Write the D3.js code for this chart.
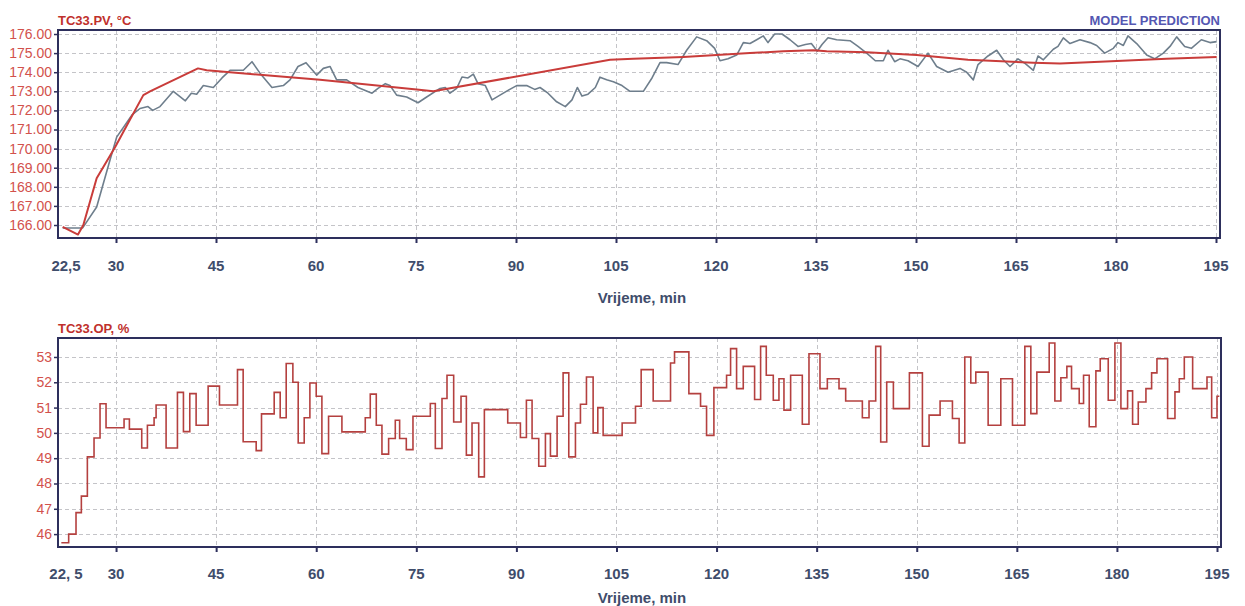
<!DOCTYPE html>
<html>
<head>
<meta charset="utf-8">
<script src="https://cdn.jsdelivr.net/npm/d3@7/dist/d3.min.js"></script>
<style>
  html, body { margin: 0; padding: 0; background: #ffffff; }
  svg { display: block; }
</style>
</head>
<body>
<svg id="chart" width="1245" height="606"></svg>
<script>
// Process temperature TC33.PV (measured), min
const pvTime = [22.0, 25.0, 27.1, 29.1, 30.1, 32.4, 33.6, 34.8, 35.5, 36.6, 38.6, 40.4, 41.3, 42.1, 43.1, 44.6,
  45.9, 47.1, 49.1, 50.4, 51.6, 53.4, 55.1, 56.1, 57.3, 58.5, 60.1, 61.1, 62.1, 63.1, 64.6, 66.3, 68.4, 69.3,
  70.4, 71.1, 72.1, 73.6, 75.3, 76.6, 78.6, 79.4, 80.1, 81.1, 81.9, 82.8, 83.6, 84.3, 85.4, 86.4, 87.6, 88.8,
  90.1, 91.6, 92.8, 93.6, 94.8, 96.1, 97.4, 98.4, 99.2, 99.9, 100.8, 101.9, 102.6, 103.6, 104.6, 105.9, 107.1,
  108.1, 109.1, 110.4, 111.6, 112.6, 114.3, 115.6, 117.1, 118.6, 119.8, 120.6, 121.8, 123.1, 124.1, 125.1,
  126.1, 127.1, 127.8, 128.8, 129.9, 131.1, 132.3, 133.4, 134.3, 135.2, 135.9, 136.8, 138.1, 140.1, 141.3,
  142.6, 143.9, 145.1, 145.8, 146.8, 147.6, 148.8, 150.3, 151.8, 153.1, 154.8, 156.6, 157.6, 158.6, 159.3,
  160.8, 162.1, 163.1, 164.1, 165.3, 166.4, 167.6, 168.3, 169.1, 170.6, 171.3, 172.1, 173.1, 174.6, 176.1,
  177.1, 178.3, 179.6, 180.3, 181.1, 181.8, 183.1, 184.6, 185.8, 187.1, 188.1, 189.1, 190.3, 191.3, 192.8,
  194.1, 195.1];
const pvValue = [165.84, 165.85, 166.94, 169.4, 170.6, 171.76, 172.1, 172.2, 172.0, 172.2, 173.0, 172.5, 172.9,
  172.85, 173.3, 173.2, 173.7, 174.1, 174.1, 174.55, 173.95, 173.2, 173.3, 173.6, 174.3, 174.5, 173.85, 174.2,
  174.3, 173.6, 173.6, 173.2, 172.9, 173.15, 173.4, 173.3, 172.8, 172.7, 172.4, 172.7, 173.15, 173.2, 172.9,
  173.15, 173.75, 173.7, 173.9, 173.4, 173.3, 172.55, 172.8, 173.05, 173.3, 173.3, 173.1, 173.2, 172.9, 172.45,
  172.2, 172.55, 173.2, 172.75, 172.85, 173.2, 173.74, 173.6, 173.5, 173.3, 173.0, 173.0, 173.0, 173.7, 174.5,
  174.5, 174.4, 175.15, 175.85, 175.65, 175.25, 174.6, 174.7, 174.9, 175.55, 175.5, 175.7, 175.9, 175.55, 176.0,
  176.0, 175.7, 175.35, 175.45, 175.5, 175.1, 175.45, 175.8, 175.7, 175.65, 175.35, 175.0, 174.6, 174.6, 175.15,
  174.55, 174.7, 174.6, 174.3, 175.0, 174.3, 174.0, 174.2, 174.0, 173.6, 174.4, 174.85, 175.15, 174.65, 174.3,
  174.7, 174.45, 174.1, 174.85, 174.65, 175.2, 175.35, 175.8, 175.5, 175.7, 175.55, 175.4, 175.0, 175.25,
  175.55, 175.4, 175.9, 175.5, 174.9, 174.7, 175.0, 175.35, 175.85, 175.35, 175.25, 175.7, 175.55, 175.6];

// Model prediction of TC33.PV
const modelTime = [22.0, 24.3, 25.1, 27.1, 29.9, 31.6, 34.1, 35.1, 42.3, 43.6, 60.6, 75.1, 77.6, 104.1, 107.6,
  115.1, 120.1, 125.1, 130.1, 134.6, 136.6, 142.6, 150.1, 157.8, 167.6, 171.6, 177.6, 187.6, 195.1];
const modelValue = [165.9, 165.5, 166.0, 168.45, 170.1, 171.2, 172.8, 173.0, 174.2, 174.1, 173.6, 173.1, 173.0,
  174.65, 174.7, 174.8, 174.9, 175.0, 175.1, 175.15, 175.1, 175.05, 174.9, 174.65, 174.5, 174.45, 174.55,
  174.7, 174.8];

// Controller output TC33.OP, step changes (time of change, new value)
const opTime = [21.8, 22.9, 24.0, 24.8, 25.7, 26.7, 27.6, 28.5, 31.2, 32.0, 33.85, 34.7, 35.7, 36.0, 37.5, 39.2,
  40.1, 41.05, 42.0, 43.8, 45.5, 48.2, 49.05, 51.0, 51.8, 53.7, 54.6, 55.5, 56.5, 57.3, 58.2, 59.05, 60.0,
  60.85, 61.85, 63.85, 67.35, 68.1, 69.0, 69.85, 70.85, 71.85, 72.5, 73.5, 74.5, 77.1, 77.85, 78.85, 79.6,
  80.6, 81.7, 82.5, 83.35, 84.35, 85.2, 88.7, 90.6, 91.5, 92.35, 93.35, 94.35, 95.1, 96.1, 97.0, 97.85, 98.85,
  99.6, 100.5, 101.5, 102.2, 103.0, 105.85, 107.85, 108.7, 110.5, 113.1, 113.7, 115.85, 117.6, 118.5, 119.6,
  121.5, 122.1, 123.0, 124.0, 125.7, 126.6, 127.45, 128.5, 129.35, 130.1, 131.1, 132.85, 133.85, 135.5, 136.6,
  138.35, 139.35, 141.85, 142.85, 143.85, 144.6, 145.5, 146.5, 148.9, 150.85, 151.85, 153.5, 155.35, 156.35,
  157.2, 158.1, 158.85, 160.7, 162.6, 164.35, 166.2, 167.1, 168.0, 169.85, 170.7, 171.6, 172.5, 173.2, 174.35,
  175.0, 175.85, 176.85, 177.5, 178.7, 179.7, 180.6, 181.6, 182.35, 183.2, 184.35, 185.2, 186.0, 187.6, 188.7,
  189.35, 190.1, 191.35, 193.5, 194.2, 195.0, 195.35];
const opValue = [45.66, 46.0, 46.85, 47.5, 49.05, 49.8, 51.15, 50.2, 50.55, 50.15, 49.4, 50.3, 50.6, 51.1, 49.4,
  51.6, 50.05, 51.55, 50.3, 51.85, 51.1, 52.5, 49.65, 49.3, 50.75, 51.6, 50.6, 52.74, 52.0, 49.6, 50.6, 51.97,
  51.45, 49.18, 50.66, 50.04, 50.6, 51.53, 50.3, 49.16, 49.78, 50.5, 49.78, 49.34, 50.66, 51.16, 49.38, 51.36,
  52.28, 50.43, 51.45, 49.12, 50.39, 48.26, 50.92, 50.39, 49.82, 51.29, 49.78, 48.68, 49.97, 49.08, 50.66,
  52.37, 49.05, 50.39, 51.13, 52.21, 50.0, 51.0, 49.9, 50.39, 51.05, 52.5, 51.26, 52.76, 53.2, 51.55, 51.05,
  49.9, 51.79, 52.28, 53.33, 51.75, 52.63, 51.32, 53.42, 52.28, 51.29, 52.14, 50.9, 52.28, 50.34, 53.13, 51.75,
  52.14, 51.75, 51.26, 50.6, 51.26, 53.42, 49.64, 52.01, 50.96, 52.37, 49.47, 50.7, 51.26, 50.57, 49.6, 53.0,
  51.97, 52.4, 50.3, 52.14, 50.3, 53.42, 50.76, 52.4, 53.55, 51.26, 52.18, 52.63, 51.75, 51.16, 52.28, 50.24,
  52.45, 52.93, 51.29, 53.55, 50.96, 51.66, 50.34, 51.22, 51.75, 52.37, 52.93, 50.57, 51.62, 52.14, 53.0,
  51.75, 52.21, 50.6, 51.45, 51.45];

// Axis ticks
const timeTicks = [30, 45, 60, 75, 90, 105, 120, 135, 150, 165, 180, 195];
const pvTicks = [166, 167, 168, 169, 170, 171, 172, 173, 174, 175, 176];
const opTicks = [46, 47, 48, 49, 50, 51, 52, 53];

const svg = d3.select("#chart");

const C = {
  frame: "#2d2f5c",
  grid: "#c4c4c8",
  tickText: "#3f4d6b",
  yText: "#d2514c",
  title: "#c0302c",
  pv: "#6e7e8c",
  model: "#c93c3a",
  op: "#b4403f",
  legend: "#5457b2"
};
const narrow = "'Liberation Sans Narrow', 'Arial Narrow', 'Liberation Sans', Arial, sans-serif";
const sans = "'Liberation Sans', Arial, sans-serif";

function panel(cfg) {
  const { left, right, top, bottom } = cfg;
  const x = d3.scaleLinear().domain([21.3, 195.6]).range([left, right]);
  const y = d3.scaleLinear().domain(cfg.yDomain).range([bottom, top]);
  const g = svg.append("g");

  // grid
  g.append("g").selectAll("line").data(cfg.yTicks).join("line")
    .attr("x1", left).attr("x2", right)
    .attr("y1", d => Math.round(y(d)) + 0.5).attr("y2", d => Math.round(y(d)) + 0.5)
    .attr("stroke", C.grid).attr("stroke-width", 1).attr("stroke-dasharray", "4,3");
  g.append("g").selectAll("line").data(timeTicks).join("line")
    .attr("x1", d => Math.round(x(d)) + 0.5).attr("x2", d => Math.round(x(d)) + 0.5)
    .attr("y1", top).attr("y2", bottom)
    .attr("stroke", C.grid).attr("stroke-width", 1).attr("stroke-dasharray", "4,3");

  // data
  cfg.draw(g, x, y);

  // frame
  g.append("rect").attr("x", left).attr("y", top)
    .attr("width", right - left).attr("height", bottom - top)
    .attr("fill", "none").attr("stroke", C.frame).attr("stroke-width", 2);

  // x axis
  const xAxis = d3.axisBottom(x).tickValues(timeTicks).tickSize(5).tickFormat("");
  const xa = g.append("g").attr("transform", `translate(0,${bottom})`).call(xAxis);
  xa.select(".domain").remove();
  xa.selectAll(".tick line").attr("stroke", C.frame).attr("stroke-width", 2);

  const labels = [{ v: 22.5, t: cfg.firstLabel }].concat(timeTicks.map(v => ({ v, t: String(v) })));
  g.append("g").selectAll("text").data(labels).join("text")
    .attr("x", d => x(d.v)).attr("y", bottom + cfg.labelOffset)
    .attr("text-anchor", "middle").attr("dominant-baseline", "central")
    .attr("font-family", narrow).attr("font-weight", "bold").attr("font-size", 15)
    .attr("fill", C.tickText).text(d => d.t);

  g.append("text").attr("x", 642).attr("y", bottom + cfg.nameOffset)
    .attr("text-anchor", "middle").attr("dominant-baseline", "central")
    .attr("font-family", narrow).attr("font-weight", "bold").attr("font-size", 15)
    .attr("fill", C.tickText).text("Vrijeme, min");

  // y axis
  const yAxis = d3.axisLeft(y).tickValues(cfg.yTicks).tickSize(4).tickPadding(2).tickFormat(cfg.yFormat);
  const ya = g.append("g").attr("transform", `translate(${left},0)`).call(yAxis);
  ya.select(".domain").remove();
  ya.selectAll(".tick line").attr("stroke", C.frame).attr("stroke-width", 1.5);
  ya.selectAll(".tick text").attr("fill", C.yText)
    .attr("font-family", sans).attr("font-size", 14);

  g.append("text").attr("x", left).attr("y", top - 10)
    .attr("dominant-baseline", "central")
    .attr("font-family", sans).attr("font-weight", "bold").attr("font-size", 13)
    .attr("fill", C.title).text(cfg.title);
}

// Upper panel: temperature with model prediction
panel({
  left: 58, right: 1220, top: 30, bottom: 238,
  yDomain: [165.32, 176.21], yTicks: pvTicks, yFormat: d3.format(".2f"),
  firstLabel: "22,5", labelOffset: 27, nameOffset: 59, title: "TC33.PV, °C",
  draw(g, x, y) {
    const line = d3.line().x(d => x(d[0])).y(d => y(d[1])).curve(d3.curveLinear);
    g.append("path").datum(pvTime.map((t, i) => [t, pvValue[i]]))
      .attr("d", line).attr("fill", "none").attr("stroke", C.pv)
      .attr("stroke-width", 1.6).attr("stroke-linejoin", "round");
    g.append("path").datum(modelTime.map((t, i) => [t, modelValue[i]]))
      .attr("d", line).attr("fill", "none").attr("stroke", C.model)
      .attr("stroke-width", 2).attr("stroke-linejoin", "round");
  }
});

svg.append("text").attr("x", 1220).attr("y", 20)
  .attr("text-anchor", "end").attr("dominant-baseline", "central")
  .attr("font-family", narrow).attr("font-weight", "bold").attr("font-size", 13)
  .attr("fill", C.legend).text("MODEL PREDICTION");

// Lower panel: controller output
panel({
  left: 58, right: 1221, top: 338, bottom: 547,
  yDomain: [45.49, 53.75], yTicks: opTicks, yFormat: d3.format("d"),
  firstLabel: "22, 5", labelOffset: 26, nameOffset: 50, title: "TC33.OP, %",
  draw(g, x, y) {
    const step = d3.line().x(d => x(d[0])).y(d => y(d[1])).curve(d3.curveStepAfter);
    g.append("path").datum(opTime.map((t, i) => [t, opValue[i]]))
      .attr("d", step).attr("fill", "none").attr("stroke", C.op)
      .attr("stroke-width", 1.6);
  }
});
</script>
</body>
</html>
